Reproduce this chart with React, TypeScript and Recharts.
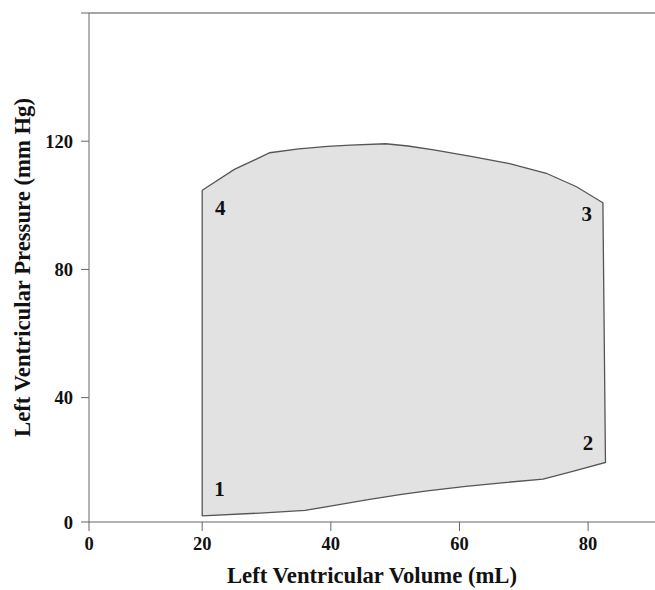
// Left ventricular pressure-volume loop
// Closed loop drawn with a Scatter line (joint) filled grey, phase numbers as labels

import React from "react";
import { ScatterChart, Scatter, XAxis, YAxis, ReferenceLine, LabelList } from "recharts";

// loop traced 1 -> 2 -> 3 -> 4 -> back to 1
const loopVolume = [20, 29, 36, 40.6, 45.8, 51, 55, 61, 67, 73, 77.6, 82.7, 82.3, 78.2, 73.5, 67.8, 62, 56, 52, 48.5, 43, 39.5, 35, 30.5, 25, 20, 20];
const loopPressure = [3.1, 4.0, 4.8, 6.4, 8.2, 9.8, 10.9, 12.3, 13.5, 14.6, 17.0, 19.8, 100.8, 105.8, 110, 113, 115.2, 117.3, 118.5, 119.2, 118.8, 118.4, 117.6, 116.4, 111.2, 104.7, 3.1];

// phase numbers inside the loop corners
const phaseText = ["1", "2", "3", "4"];
const phaseVolume = [22.7, 80, 79.8, 22.8];
const phasePressure = [11.5, 26, 97.3, 99.3];

// the axes start a touch above zero in the original, but the origin is labelled "0"
const xOrigin = 2.4;
const xMax = 90.4;
const yOrigin = 1.2;
const yMax = 160;
const xTicks = [xOrigin, 20, 40, 60, 80];
const yTicks = [yOrigin, 40, 80, 120, yMax];

const FONT = '"Liberation Serif", "Times New Roman", serif';

export default function App() {
  const loopData = loopVolume.map((v, i) => ({ volume: v, pressure: loopPressure[i] }));
  const phaseData = phaseText.map((t, i) => ({ volume: phaseVolume[i], pressure: phasePressure[i], label: t }));

  const tickStyle = { fontFamily: FONT, fontWeight: 700, fontSize: 18.5, fill: "#111" };
  const titleStyle = { fontFamily: FONT, fontWeight: 700, fontSize: 22.7, fill: "#111" };

  return (
    <div style={{ position: "absolute", left: 0, top: 0, background: "#fff" }}>
      <ScatterChart width={655} height={590} margin={{ top: 13, right: 0, bottom: 0, left: 0 }}>
        <XAxis
          type="number"
          dataKey="volume"
          domain={[xOrigin, xMax]}
          ticks={xTicks}
          interval={0}
          allowDataOverflow
          tickFormatter={(v: number) => (v === xOrigin ? "0" : String(v))}
          tick={tickStyle}
          tickSize={9}
          tickMargin={6}
          height={68}
          stroke="#666"
          label={{
            value: "Left Ventricular Volume (mL)",
            position: "insideBottom",
            offset: 7,
            style: titleStyle,
          }}
        />
        <YAxis
          type="number"
          dataKey="pressure"
          domain={[yOrigin, yMax]}
          ticks={yTicks}
          interval={0}
          allowDataOverflow
          tickFormatter={(v: number) => (v === yOrigin ? "0" : v === yMax ? "" : String(v))}
          tick={tickStyle}
          tickSize={8}
          tickMargin={8}
          width={89}
          stroke="#666"
          label={{
            value: "Left Ventricular Pressure (mm Hg)",
            angle: -90,
            position: "insideLeft",
            offset: 22,
            style: { ...titleStyle, textAnchor: "middle" },
          }}
        />
        <ReferenceLine y={yMax} stroke="#888" strokeWidth={1.5} />
        <Scatter
          data={loopData}
          isAnimationActive={false}
          line={{ fill: "#e2e2e2", stroke: "#555", strokeWidth: 1.3 }}
          lineType="joint"
          shape={() => <g />}
        />
        <Scatter data={phaseData} isAnimationActive={false} shape={() => <g />}>
          <LabelList
            dataKey="label"
            position="center"
            style={{ fontFamily: FONT, fontWeight: 700, fontSize: 21, fill: "#111" }}
          />
        </Scatter>
      </ScatterChart>
    </div>
  );
}
